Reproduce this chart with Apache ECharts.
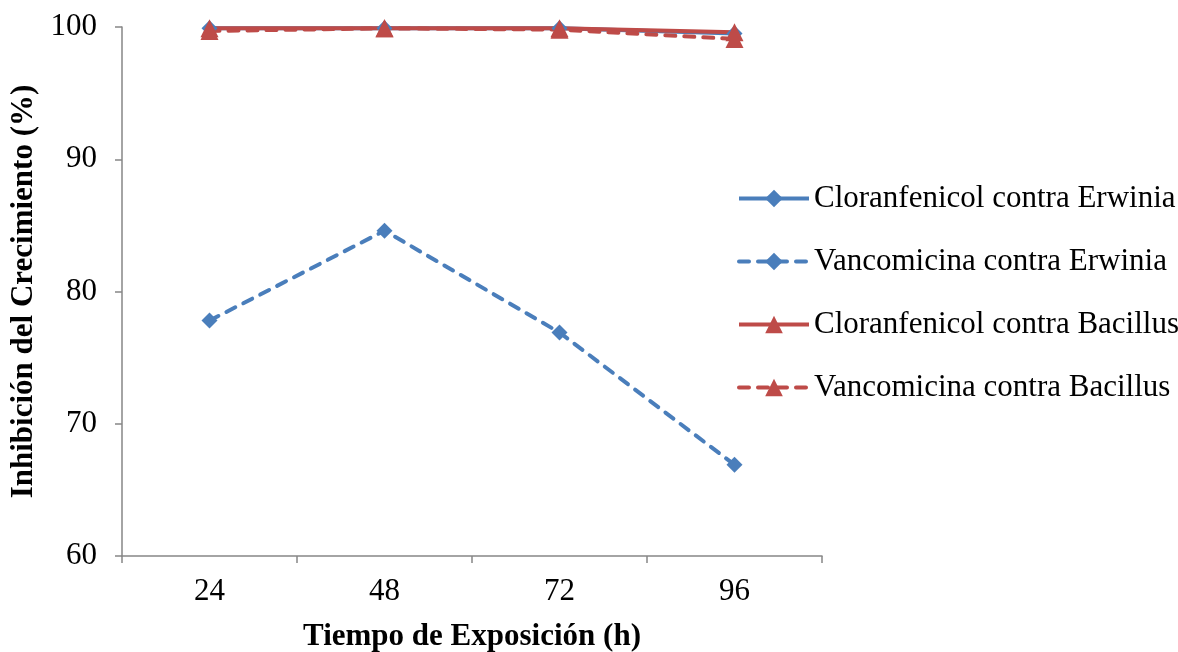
<!DOCTYPE html>
<html><head><meta charset="utf-8">
<script src="https://cdn.jsdelivr.net/npm/echarts@6/dist/echarts.min.js"></script>
<style>html,body{margin:0;padding:0;background:#fff}#c{width:1178px;height:652px}</style>
</head><body><div id="c"></div>
<script>
const categories = ['24', '48', '72', '96'];
const cloranfenicolErwinia = [99.9, 99.9, 99.9, 99.5];
const vancomicinaErwinia = [77.8, 84.6, 76.9, 66.9];
const cloranfenicolBacillus = [99.9, 99.9, 99.9, 99.6];
const vancomicinaBacillus = [99.7, 99.9, 99.8, 99.1];
const seriesNames = ['Cloranfenicol contra Erwinia', 'Vancomicina contra Erwinia', 'Cloranfenicol contra Bacillus', 'Vancomicina contra Bacillus'];

const blue = '#4A7EBB', red = '#BE4B48', axisCol = '#868686';
const font = '"Liberation Serif", "Times New Roman", serif';
const fs = 31;

function mk(name, data, color, dashed, symbol, size) {
  return {
    name, type: 'line', data, symbol, symbolSize: size,
    lineStyle: { color, width: 4, type: dashed ? [10, 9] : 'solid', cap: dashed ? 'round' : 'butt' },
    itemStyle: { color },
    emphasis: { disabled: true },
    animation: false
  };
}
const chart = echarts.init(document.getElementById('c'));
chart.setOption({
  backgroundColor: '#fff',
  textStyle: { fontFamily: font },
  grid: { left: 122, right: 356, top: 27, bottom: 96, containLabel: false, outerBoundsMode: 'none' },
  legend: {
    orient: 'vertical', left: 732, top: 178,
    itemWidth: 70, itemHeight: 22, itemGap: 32,
    lineStyle: { width: 4 },
    textStyle: { fontFamily: font, fontSize: fs, color: '#000', lineHeight: 31 },
    data: seriesNames
  },
  xAxis: {
    type: 'category', data: categories, boundaryGap: true,
    axisLine: { lineStyle: { color: axisCol, width: 1.5 } },
    axisTick: { show: true, length: 7, alignWithLabel: false, lineStyle: { color: axisCol, width: 1.5 } },
    axisLabel: { fontFamily: font, fontSize: fs, color: '#000', margin: 20 },
    name: 'Tiempo de Exposición (h)', nameLocation: 'middle', nameGap: 65,
    nameTextStyle: { fontFamily: font, fontSize: fs, fontWeight: 'bold', color: '#000' }
  },
  yAxis: {
    type: 'value', min: 60, max: 100, interval: 10,
    splitLine: { show: false },
    axisLine: { show: true, lineStyle: { color: axisCol, width: 1.5 } },
    axisTick: { show: true, length: 7, lineStyle: { color: axisCol, width: 1.5 } },
    axisLabel: { fontFamily: font, fontSize: fs, color: '#000', margin: 25 },
    name: 'Inhibición del Crecimiento (%)', nameLocation: 'middle', nameGap: 82,
    nameTextStyle: { fontFamily: font, fontSize: fs, fontWeight: 'bold', color: '#000' }
  },
  series: [
    mk(seriesNames[0], cloranfenicolErwinia, blue, false, 'diamond', 16),
    mk(seriesNames[1], vancomicinaErwinia, blue, true, 'diamond', 16),
    mk(seriesNames[2], cloranfenicolBacillus, red, false, 'triangle', 18),
    mk(seriesNames[3], vancomicinaBacillus, red, true, 'triangle', 18)
  ]
});
</script></body></html>
